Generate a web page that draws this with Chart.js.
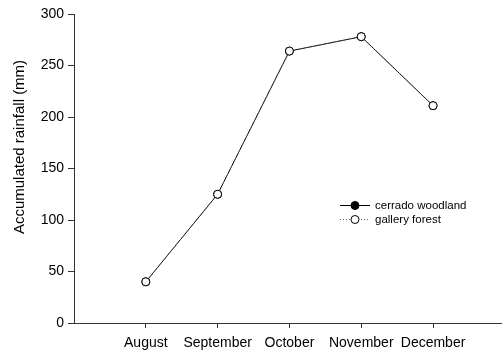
<!DOCTYPE html>
<html>
<head>
<meta charset="utf-8">
<script src="https://cdn.jsdelivr.net/npm/chart.js@4/dist/chart.umd.min.js"></script>
<style>
  html, body { margin: 0; padding: 0; background: #fff; }
  canvas { display: block; }
</style>
</head>
<body>
<canvas id="c" width="502" height="357"></canvas>
<script>
// Monthly accumulated rainfall in two vegetation types
const months = ['August', 'September', 'October', 'November', 'December'];
const cerradoWoodland = [40, 125, 264, 278, 211];
const galleryForest = [40, 125, 264, 278, 211];
const yTicks = [0, 50, 100, 150, 200, 250, 300];
const yTitle = 'Accumulated rainfall (mm)';
const seriesNames = ['cerrado woodland', 'gallery forest'];

const FONT = '"Liberation Sans", Arial, sans-serif';

function toPoints(values) {
  return values.map((v, i) => ({ x: i + 1, y: v }));
}

// Rotated y-axis title and a line+marker legend
const decorations = {
  id: 'decorations',
  afterDraw(chart) {
    const ctx = chart.ctx;
    ctx.save();
    ctx.fillStyle = '#000';
    ctx.font = '15px ' + FONT;
    ctx.textAlign = 'center';
    ctx.textBaseline = 'middle';
    ctx.translate(20, 147);
    ctx.rotate(-Math.PI / 2);
    ctx.fillText(yTitle, 0, 0);
    ctx.restore();

    const rows = [
      { y: 205, dash: [], fill: '#000', lineColor: '#000' },
      { y: 219, dash: [1, 2], fill: '#fff', lineColor: '#666' }
    ];
    rows.forEach((r, i) => {
      ctx.save();
      ctx.strokeStyle = r.lineColor;
      ctx.lineWidth = 1;
      ctx.setLineDash(r.dash);
      ctx.beginPath();
      ctx.moveTo(340, r.y + 0.5);
      ctx.lineTo(370, r.y + 0.5);
      ctx.stroke();
      ctx.setLineDash([]);
      ctx.beginPath();
      ctx.arc(355, r.y + 0.5, 4, 0, Math.PI * 2);
      ctx.fillStyle = r.fill;
      ctx.fill();
      ctx.strokeStyle = '#000';
      ctx.stroke();
      ctx.fillStyle = '#000';
      ctx.font = '11.5px ' + FONT;
      ctx.textAlign = 'left';
      ctx.textBaseline = 'middle';
      ctx.fillText(seriesNames[i], 375, r.y + 0.5);
      ctx.restore();
    });
  }
};

new Chart(document.getElementById('c'), {
  type: 'line',
  data: {
    datasets: [
      {
        label: seriesNames[0],
        data: toPoints(cerradoWoodland),
        borderColor: '#000',
        borderWidth: 1,
        pointRadius: 4,
        pointBackgroundColor: '#000',
        pointBorderColor: '#000',
        pointBorderWidth: 1,
        order: 1
      },
      {
        label: seriesNames[1],
        data: toPoints(galleryForest),
        borderColor: '#666',
        borderWidth: 1,
        borderDash: [1, 2],
        pointRadius: 4,
        pointBackgroundColor: '#fff',
        pointBorderColor: '#000',
        pointBorderWidth: 1,
        order: 0
      }
    ]
  },
  options: {
    responsive: false,
    animation: false,
    devicePixelRatio: 1,
    layout: { autoPadding: false, padding: { top: 14, right: 0, bottom: 0, left: 0 } },
    plugins: { legend: { display: false }, tooltip: { enabled: false } },
    scales: {
      x: {
        type: 'linear',
        min: 0,
        max: 5.96,
        afterBuildTicks(scale) { scale.ticks = months.map((m, i) => ({ value: i + 1 })); },
        afterFit(scale) { scale.height = 34; },
        ticks: {
          color: '#000',
          font: { family: FONT, size: 14 },
          padding: 7,
          maxRotation: 0,
          autoSkip: false,
          callback: (v) => months[v - 1]
        },
        grid: { drawOnChartArea: false, drawTicks: true, tickLength: 5, color: '#333' },
        border: { color: '#333', width: 1 }
      },
      y: {
        min: 0,
        max: 300,
        afterBuildTicks(scale) { scale.ticks = yTicks.map(v => ({ value: v })); },
        afterFit(scale) { scale.width = 74; },
        ticks: {
          color: '#000',
          font: { family: FONT, size: 14 },
          padding: 4
        },
        grid: { drawOnChartArea: false, drawTicks: true, tickLength: 6, color: '#333' },
        border: { color: '#333', width: 1 }
      }
    }
  },
  plugins: [decorations]
});
</script>
</body>
</html>
